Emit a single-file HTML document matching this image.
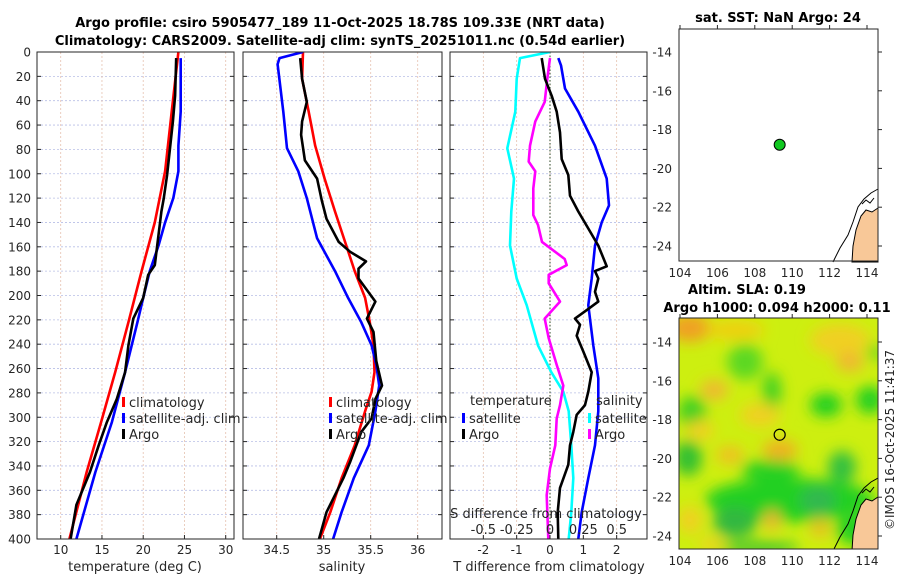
<!DOCTYPE html>
<html><head><meta charset="utf-8"><style>
body{margin:0;background:#fff;width:900px;height:580px;overflow:hidden}
svg{display:block;font-family:"DejaVu Sans","Liberation Sans",sans-serif}
</style></head><body>
<svg id="fig" width="900" height="580" viewBox="0 0 900 580" xmlns="http://www.w3.org/2000/svg">
<defs>
<filter id="blur" x="-20%" y="-20%" width="140%" height="140%"><feGaussianBlur stdDeviation="7"/></filter>
<clipPath id="clipMap2"><rect x="679" y="318" width="199" height="231"/></clipPath>
<clipPath id="clipP1"><rect x="37" y="52" width="197" height="487"/></clipPath>
<clipPath id="clipP2"><rect x="243" y="52" width="199" height="487"/></clipPath>
<clipPath id="clipP3"><rect x="450" y="52" width="197" height="487"/></clipPath>
</defs>
<text x="340" y="27" text-anchor="middle" font-size="13" font-weight="bold" fill="#000">Argo profile: csiro 5905477_189 11-Oct-2025 18.78S 109.33E (NRT data)</text>
<text x="340" y="45" text-anchor="middle" font-size="13" font-weight="bold" fill="#000">Climatology: CARS2009. Satellite-adj clim: synTS_20251011.nc (0.54d earlier)</text>
<g id="p1"></g>
<g id="p2"></g>
<g id="p3"></g>
<g id="m1"></g>
<g id="m2"></g>
<text transform="translate(894,440) rotate(-90)" text-anchor="middle" font-size="12" fill="#262626">©IMOS 16-Oct-2025 11:41:37</text>
</svg>
<script>
// ---- data ----
const tempClimDepth=[0,49,98,140,180,222,263,304,345,400];
const tempClim=[24.26,23.45,22.65,21.4,19.8,18.2,16.6,14.9,13.15,11.05];
const tempSatDepth=[5,49,77,98,120,140,159,180,202,222,263,304,345,400];
const tempSat=[24.55,24.55,24.26,24.26,23.65,22.65,21.85,20.8,20.0,19.3,17.8,16.2,14.2,11.9];
const tempArgoDepth=[5,36,57,79,101,120,131,153,175,183,202,219,241,263,285,304,323,345,372,400];
const tempArgo=[24.0,23.86,23.6,23.25,22.9,22.5,22.2,21.8,21.4,20.6,20.0,18.8,18.2,17.8,16.8,15.6,14.6,13.55,11.9,11.2];
const salClimDepth=[0,22,49,77,104,131,159,180,202,222,241,263,279,295,323,350,378,400];
const salClim=[34.78,34.77,34.84,34.91,35.01,35.12,35.24,35.33,35.44,35.49,35.53,35.54,35.51,35.44,35.33,35.19,35.07,34.96];
const salSatDepth=[0,5,10,49,79,98,120,153,180,202,222,241,257,274,295,323,350,378,400];
const salSat=[34.78,34.53,34.51,34.57,34.61,34.73,34.82,34.93,35.12,35.26,35.40,35.51,35.56,35.59,35.55,35.48,35.32,35.19,35.10];
const salArgoDepth=[5,22,41,57,68,89,104,122,137,156,164,172,178,186,205,219,230,254,274,285,301,312,337,350,378,400];
const salArgo=[34.75,34.77,34.82,34.77,34.76,34.80,34.93,34.98,35.03,35.16,35.28,35.45,35.37,35.37,35.55,35.46,35.53,35.56,35.62,35.55,35.51,35.40,35.28,35.21,35.03,34.95];
const dTSatDepth=[5,11,30,49,77,104,126,140,159,186,208,241,268,295,323,350,378,400];
const dTSat=[0.25,0.33,0.45,0.85,1.35,1.70,1.77,1.55,1.35,1.25,1.15,1.30,1.45,1.45,1.35,1.15,0.95,0.85];
const dTArgoDepth=[5,22,36,49,66,88,101,118,131,145,159,176,180,186,197,205,211,219,224,233,246,263,279,290,298,312,323,339,358,378,400];
const dTArgo=[-0.25,-0.15,0.05,0.2,0.3,0.35,0.55,0.6,0.85,1.15,1.45,1.70,1.35,1.45,1.35,1.45,1.15,0.75,0.9,0.8,1.0,1.25,1.15,1.05,0.8,0.7,0.6,0.55,0.3,0.23,0.25];
const dSSatDepth=[0,5,22,49,79,104,131,159,186,208,241,263,279,295,323,350,378,400];
const dSSat=[0,-0.225,-0.25,-0.26,-0.32,-0.27,-0.29,-0.30,-0.25,-0.175,-0.09,0.01,0.10,0.14,0.16,0.175,0.16,0.14];
const dSArgoDepth=[5,22,41,57,77,90,98,112,134,142,156,170,175,183,190,205,219,235,257,274,290,301,323,342,364,400];
const dSArgo=[0,-0.02,-0.04,-0.11,-0.15,-0.16,-0.11,-0.125,-0.125,-0.09,-0.06,0.11,0.125,-0.01,-0.01,0.075,-0.04,-0.01,0.05,0.10,0.075,0.05,0.04,0,-0.025,-0.0125];
const depthTicks=[0,20,40,60,80,100,120,140,160,180,200,220,240,260,280,300,320,340,360,380,400];
const tempTicks=[10,15,20,25,30];
const salTicks=[34.5,35,35.5,36];
const dTTicks=[-2,-1,0,1,2];
const dSTicks=[-0.5,-0.25,0,0.25,0.5];
const dSTickLabels=["-0.5","-0.25","0","0.25","0.5"];
const lonTicks=[104,106,108,110,112,114];
const latTicks=[-14,-16,-18,-20,-22,-24];
const argoLon=109.33, argoLat=-18.78;

// ---- helpers ----
const NS="http://www.w3.org/2000/svg";
function mk(tag,attrs,parent){const e=document.createElementNS(NS,tag);for(const k in attrs)e.setAttribute(k,attrs[k]);parent.appendChild(e);return e;}
const yD=d=>52+d*(539-52)/400;
const xT=v=>36.7+(v-7.09)*8.25;
const xS=v=>276.7+(v-34.5)*94;
const xDT=v=>550+v*33.33;
const xDS=v=>550+v*133.33;

function panel(g,x0,x1,xticks,xf,clip,name){
  const bg=mk('rect',{x:x0,y:52,width:x1-x0,height:487,fill:'#fff'},g);
  
  
  depthTicks.forEach(d=>{
    const l=mk('line',{x1:x0,x2:x1,y1:yD(d),y2:yD(d),stroke:'#b8bfe6','stroke-width':0.8,'stroke-dasharray':'2,2'},g);
    
    
  });
  xticks.forEach(v=>{
    const l=mk('line',{x1:xf(v),x2:xf(v),y1:52,y2:539,stroke:'#e6c2b0','stroke-width':0.8,'stroke-dasharray':'2,2'},g);
    
    
  });
}
function frame(g,x0,x1,xticks,xf,name){
  const r=mk('rect',{x:x0,y:52,width:x1-x0,height:487,fill:'none',stroke:'#262626','stroke-width':1},g);
  
  
  depthTicks.forEach(d=>{
    const a=mk('line',{x1:x0,x2:x0+4,y1:yD(d),y2:yD(d),stroke:'#262626'},g);
    
    
    const b=mk('line',{x1:x1-4,x2:x1,y1:yD(d),y2:yD(d),stroke:'#262626'},g);
    
    
  });
  xticks.forEach(v=>{
    const a=mk('line',{x1:xf(v),x2:xf(v),y1:535,y2:539,stroke:'#262626'},g);
    
    
  });
}
function series(g,depths,vals,xf,color,name,clip){
  const pts=depths.map((d,i)=>xf(vals[i]).toFixed(1)+','+yD(d).toFixed(1)).join(' ');
  const p=mk('polyline',{points:pts,fill:'none',stroke:color,'stroke-width':2.6,'stroke-linejoin':'round','clip-path':'url(#'+clip+')'},g);
  
  
}
function txt(g,x,y,s,attrs,name){
  const t=mk('text',Object.assign({x:x,y:y,'font-size':12,fill:'#262626'},attrs||{}),g);
  t.textContent=s;
  
  
  return t;
}
function legendEntry(g,x,y,color,label,name){
  const b=mk('rect',{x:x,y:y-10,width:3,height:10,fill:color},g);
  
  
  txt(g,x+7,y,label,{'font-size':13},name);
}

// ---- panel 1 ----
const p1=document.getElementById('p1');
panel(p1,37,234,tempTicks,xT,'clipP1','temperature-panel');
series(p1,tempClimDepth,tempClim,xT,'#ff0000','temp-climatology-line','clipP1');
series(p1,tempSatDepth,tempSat,xT,'#0000ff','temp-satellite-line','clipP1');
series(p1,tempArgoDepth,tempArgo,xT,'#000000','temp-argo-line','clipP1');
frame(p1,37,234,tempTicks,xT,'temperature-panel');
depthTicks.forEach(d=>txt(p1,31,yD(d)+4.5,String(d),{'text-anchor':'end'},'depth-tick-label'));
tempTicks.forEach(v=>txt(p1,xT(v),554,String(v),{'text-anchor':'middle'},'temp-tick-label'));
txt(p1,135,571,'temperature (deg C)',{'text-anchor':'middle','font-size':13},'x-axis-title-temperature');
legendEntry(p1,122,407,'#ff0000','climatology','legend-climatology');
legendEntry(p1,122,423,'#0000ff','satellite-adj. clim','legend-satellite-adj');
legendEntry(p1,122,439,'#000000','Argo','legend-argo');

// ---- panel 2 ----
const p2=document.getElementById('p2');
panel(p2,243,442,salTicks,xS,'clipP2','salinity-panel');
series(p2,salClimDepth,salClim,xS,'#ff0000','sal-climatology-line','clipP2');
series(p2,salSatDepth,salSat,xS,'#0000ff','sal-satellite-line','clipP2');
series(p2,salArgoDepth,salArgo,xS,'#000000','sal-argo-line','clipP2');
frame(p2,243,442,salTicks,xS,'salinity-panel');
salTicks.forEach(v=>txt(p2,xS(v),554,String(v),{'text-anchor':'middle'},'salinity-tick-label'));
txt(p2,342,571,'salinity',{'text-anchor':'middle','font-size':13},'x-axis-title-salinity');
legendEntry(p2,329,407,'#ff0000','climatology','legend-climatology');
legendEntry(p2,329,423,'#0000ff','satellite-adj. clim','legend-satellite-adj');
legendEntry(p2,329,439,'#000000','Argo','legend-argo');

// ---- panel 3 ----
const p3=document.getElementById('p3');
panel(p3,450,647,dTTicks,xDT,'clipP3','difference-panel');
const zl=mk('line',{x1:550,x2:550,y1:52,y2:539,stroke:'#2a4a2a','stroke-width':1,'stroke-dasharray':'1.5,2'},p3);


series(p3,dSSatDepth,dSSat,xDS,'#00ffff','sal-diff-satellite-line','clipP3');
series(p3,dTSatDepth,dTSat,xDT,'#0000ff','temp-diff-satellite-line','clipP3');
series(p3,dSArgoDepth,dSArgo,xDS,'#ff00ff','sal-diff-argo-line','clipP3');
series(p3,dTArgoDepth,dTArgo,xDT,'#000000','temp-diff-argo-line','clipP3');
frame(p3,450,647,dTTicks,xDT,'difference-panel');
dTTicks.forEach(v=>txt(p3,xDT(v),554,String(v),{'text-anchor':'middle'},'t-diff-tick-label'));
txt(p3,549,571,'T difference from climatology',{'text-anchor':'middle','font-size':13},'x-axis-title-t-diff');
txt(p3,546,518,'S difference from climatology',{'text-anchor':'middle','font-size':13},'s-axis-title');
dSTicks.forEach((v,i)=>txt(p3,xDS(v),534,dSTickLabels[i],{'text-anchor':'middle','font-size':13},'s-diff-tick-label'));
txt(p3,470,405,'temperature',{'font-size':13},'legend-temperature-heading');
legendEntry(p3,462,423,'#0000ff','satellite','legend-temp-satellite');
legendEntry(p3,462,439,'#000000','Argo','legend-temp-argo');
txt(p3,596,405,'salinity',{'font-size':13},'legend-salinity-heading');
legendEntry(p3,588,423,'#00ffff','satellite','legend-sal-satellite');
legendEntry(p3,588,439,'#ff00ff','Argo','legend-sal-argo');

// ---- maps ----
function mapAxes(g,top,bot,lat0y,name){
  const xL=v=>680+(v-104)*18.7, yL=v=>lat0y+(-14-v)*19.4;
  const r=mk('rect',{x:679,y:top,width:199,height:bot-top,fill:'none',stroke:'#262626'},g);
  
  
  lonTicks.forEach(v=>{
    txt(g,xL(v),bot+16,String(v),{'text-anchor':'middle','font-size':12},'lon-tick-label');
    const t=mk('line',{x1:xL(v),x2:xL(v),y1:top-4,y2:top,stroke:'#262626'},g);
    
    
  });
  latTicks.forEach(v=>{
    txt(g,672,yL(v)+4.5,String(v),{'text-anchor':'end','font-size':12},'lat-tick-label');
    const t=mk('line',{x1:878,x2:882,y1:yL(v),y2:yL(v),stroke:'#262626'},g);
    
    
  });
  return [xL,yL];
}
function coast(g,dy,name){
  const land=mk('polygon',{points:[[852,262],[853,246],[856,230],[861,216],[866,210],[872,212],[878,208],[878,262]].map(p=>p[0]+','+(p[1]+dy)).join(' '),fill:'#f8c898',stroke:'#000','stroke-width':1},g);
  
  
  const line=mk('polyline',{points:[[833,262],[840,248],[848,235],[853,222],[858,207],[864,199],[871,193],[878,189]].map(p=>p[0]+','+(p[1]+dy)).join(' '),fill:'none',stroke:'#000','stroke-width':1},g);
  
  
  const isl=mk('polyline',{points:[[862,204],[866,200],[870,203],[874,198]].map(p=>p[0]+','+(p[1]+dy)).join(' '),fill:'none',stroke:'#000','stroke-width':1},g);
  
  
}
const m1=document.getElementById('m1');
txt(m1,778,22,'sat. SST: NaN Argo: 24',{'text-anchor':'middle','font-size':13,'font-weight':'bold',fill:'#000'},'sst-map-title');
const bg1=mk('rect',{x:679,y:29,width:199,height:232,fill:'#fff'},m1);


coast(m1,0,'sst-map');
const [xL1,yL1]=mapAxes(m1,29,261,52,'sst-map');
const dot=mk('circle',{cx:xL1(argoLon),cy:yL1(argoLat),r:5.5,fill:'#10c820',stroke:'#000','stroke-width':1},m1);



const m2=document.getElementById('m2');
txt(m2,747,294,'Altim. SLA: 0.19',{'text-anchor':'middle','font-size':13,'font-weight':'bold',fill:'#000'},'sla-map-title');
txt(m2,777,312,'Argo h1000: 0.094 h2000: 0.11',{'text-anchor':'middle','font-size':13,'font-weight':'bold',fill:'#000'},'sla-map-subtitle');
const hm=mk('g',{'clip-path':'url(#clipMap2)'},m2);


mk('rect',{x:679,y:318,width:199,height:231,fill:'#cdef10'},hm);
const blobs=mk('g',{filter:'url(#blur)'},hm);
const feats=[
 [690,328,22,14,'#f0a020'],[735,330,30,10,'#eed010'],[840,340,30,16,'#f0d020'],[850,362,14,10,'#f0b830'],
 [745,362,18,18,'#5cd820'],[772,392,9,20,'#40d020'],[826,405,16,12,'#20d020'],[870,400,14,14,'#20d020'],[875,352,6,8,'#40d020'],
 [692,412,14,16,'#40d020'],[688,458,14,18,'#30c030'],
 [714,390,14,10,'#f0b830'],[760,415,20,12,'#f0d020'],[780,450,18,10,'#f0b020'],[730,455,14,9,'#f0c020'],[700,430,14,10,'#f0d020'],
 [790,500,85,22,'#20d020'],[735,522,22,16,'#30b840'],[818,500,18,14,'#30b850'],[842,467,14,16,'#30c040'],[770,470,30,10,'#28d020'],
 [860,530,25,15,'#20d020'],[690,520,12,14,'#f0d020'],[772,520,8,10,'#f0b030'],[820,528,10,10,'#e8c020'],[712,544,14,6,'#f0d020'],[760,548,40,6,'#30c030']
];
feats.forEach(f=>{
  const e=mk('ellipse',{cx:f[0],cy:f[1],rx:f[2],ry:f[3],fill:f[4]},blobs);
  
  
});
const coastG=mk('g',{'clip-path':'url(#clipMap2)'},m2);
coast(coastG,289,'sla-map');
const [xL2,yL2]=mapAxes(m2,318,549,342,'sla-map');
const ring=mk('circle',{cx:xL2(argoLon),cy:yL2(argoLat),r:5.5,fill:'none',stroke:'#000','stroke-width':1.2},m2);


</script>
</body></html>
